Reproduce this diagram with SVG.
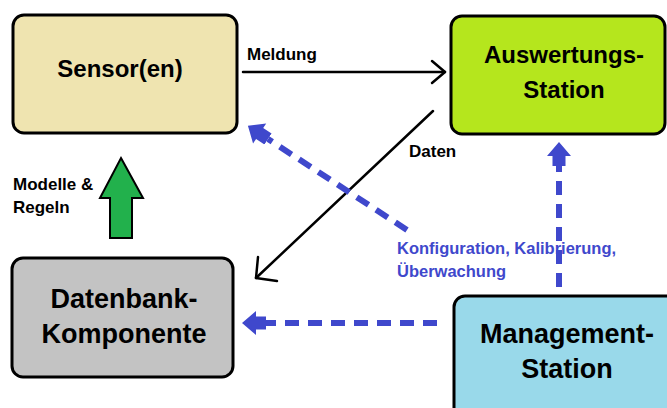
<svg xmlns="http://www.w3.org/2000/svg" width="667" height="408" viewBox="0 0 667 408">
  <style>
    .box { stroke: #000; stroke-width: 3; }
    .title { font-family: "Liberation Sans", Arial, sans-serif; font-weight: bold; font-size: 24px; fill: #000; text-anchor: middle; }
    .title.big { font-size: 27px; }
    .lbl { font-family: "Liberation Sans", Arial, sans-serif; font-weight: bold; font-size: 17px; fill: #000; }
    .blue { fill: #3F48CC; font-size: 16.5px; }
    .solid { stroke: #000; stroke-width: 2.5; fill: none; stroke-linecap: round; stroke-linejoin: round; }
    .dash { stroke: #3F48CC; stroke-width: 6; fill: none; stroke-dasharray: 14 9; }
  </style>
  <defs>
    <marker id="head" markerUnits="userSpaceOnUse" markerWidth="26" markerHeight="26" refX="0" refY="13" orient="auto" viewBox="0 0 26 26">
      <polygon points="0,6.5 10,6.5 10,1 24,13 10,25 10,19.5 0,19.5" fill="#3F48CC"/>
    </marker>
  </defs>
  <rect width="667" height="408" fill="#fff"/>

  <g id="sensor">
    <rect class="box" x="13" y="15" width="224" height="118" rx="11" fill="#EFE4B0"/>
    <text class="title" x="120" y="77">Sensor(en)</text>
  </g>

  <g id="auswertung">
    <rect class="box" x="451" y="16" width="214" height="118" rx="11" fill="#B5E61D"/>
    <text class="title" x="564" y="63">Auswertungs-</text>
    <text class="title" x="564" y="98">Station</text>
  </g>

  <g id="datenbank">
    <rect class="box" x="12" y="258" width="221" height="119" rx="11" fill="#C3C3C3"/>
    <text class="title big" x="124" y="308">Datenbank-</text>
    <text class="title big" x="124" y="343">Komponente</text>
  </g>

  <g id="management">
    <rect class="box" x="454" y="296" width="230" height="130" rx="11" fill="#99D9EA"/>
    <text class="title big" x="567" y="343">Management-</text>
    <text class="title big" x="567" y="378">Station</text>
  </g>

  <g id="connectors">
    <!-- Meldung: sensor to evaluation -->
    <line class="solid" x1="243" y1="72" x2="445" y2="72"/>
    <polyline class="solid" points="432,61 445,72 432,83"/>
    <!-- Daten: evaluation to database -->
    <line class="solid" x1="433" y1="111" x2="256" y2="278"/>
    <polyline class="solid" points="258,257 256,278 277,281"/>
    <!-- Modelle & Regeln: database to sensor -->
    <polygon points="121,158 143,198 132,198 132,238 110,238 110,198 100,198" fill="#22B14C" stroke="#000" stroke-width="2" stroke-linejoin="miter"/>
    <!-- management links -->
    <line class="dash" x1="407" y1="230" x2="268" y2="139" marker-end="url(#head)"/>
    <line class="dash" x1="437" y1="323" x2="266" y2="323" marker-end="url(#head)"/>
    <line class="dash" x1="559" y1="287" x2="559" y2="166" marker-end="url(#head)"/>
  </g>

  <g id="labels">
    <text class="lbl" x="247" y="60">Meldung</text>
    <text class="lbl" x="409" y="157">Daten</text>
    <text class="lbl" x="13" y="190">Modelle &amp;</text>
    <text class="lbl" x="13" y="213">Regeln</text>
    <text class="lbl blue" x="397" y="254">Konfiguration, Kalibrierung,</text>
    <text class="lbl blue" x="397" y="277">Überwachung</text>
  </g>
</svg>
